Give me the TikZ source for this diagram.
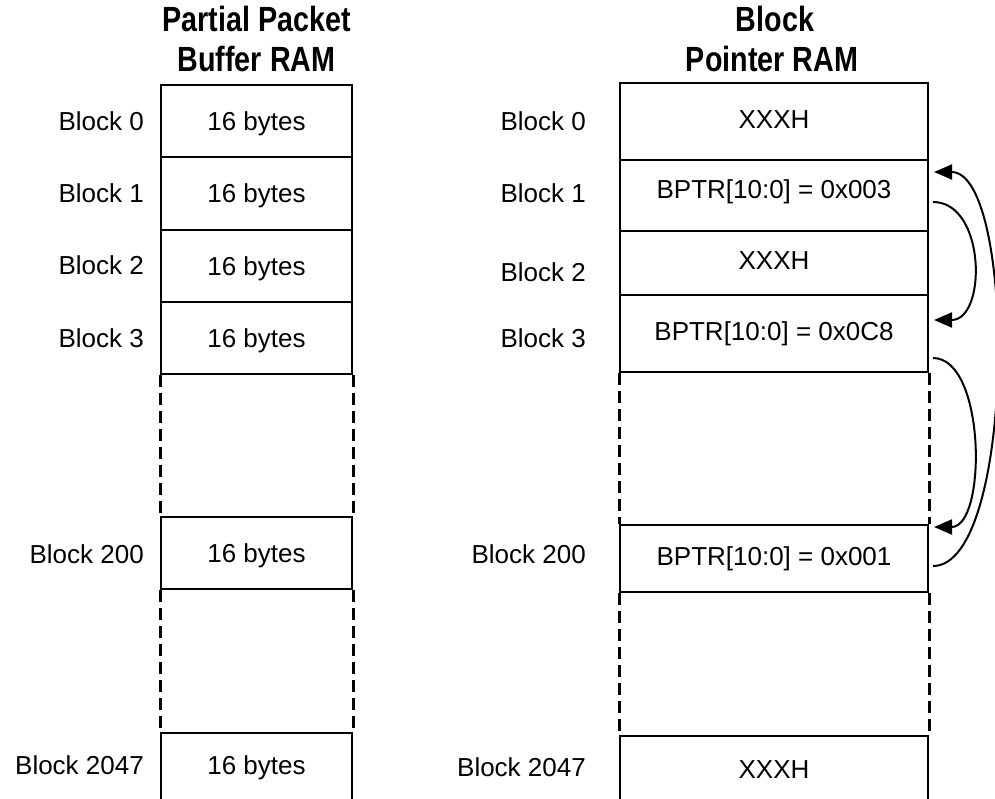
\documentclass[tikz,border=0pt]{standalone}
\usepackage{graphicx}
\usepackage{fontspec}
\setmainfont{Liberation Sans}
\usetikzlibrary{arrows.meta}
\newcommand{\ttlfont}[1]{\scalebox{0.82}[1]{#1}}
\begin{document}
\begin{tikzpicture}[x=1pt,y=-1pt,
  cell/.style={draw,line width=2pt,inner sep=0pt,font=\fontsize{26}{30}\selectfont,
    text height=19pt,text depth=0pt},
  lcell/.style={cell,minimum width=191pt},
  rcell/.style={cell,minimum width=308pt,text depth=5pt},
  lbl/.style={anchor=base east,inner sep=0pt,font=\fontsize{26}{30}\selectfont},
  ttl/.style={anchor=base,inner sep=0pt,font=\fontsize{35}{40}\selectfont\bfseries},
  dsh/.style={line width=3pt,dash pattern=on 12pt off 6pt},
  link/.style={line width=2pt,-{Triangle[length=18pt,width=15pt]}}
]
\useasboundingbox (0,0) rectangle (995,799);
% titles
\node[ttl] (t1) at (256.5,32) {\ttlfont{Partial Packet}};
\node[ttl] (t2) at (256.5,72) {\ttlfont{Buffer RAM}};
\node[ttl] (t3) at (775,32) {\ttlfont{Block}};
\node[ttl] (t4) at (772,72) {\ttlfont{Pointer RAM}};
% left column
\node[lcell,minimum height=72pt] (l0) at (256.5,121) {16 bytes};
\node[lcell,minimum height=73pt] (l1) at (256.5,193.5) {16 bytes};
\node[lcell,minimum height=72pt] (l2) at (256.5,266) {16 bytes};
\node[lcell,minimum height=72pt] (l3) at (256.5,338) {16 bytes};
\node[lcell,minimum height=72pt] (l200) at (256.5,553) {16 bytes};
\node[lcell,minimum height=80pt,text depth=17pt] (l2047) at (256.5,773) {16 bytes};
\draw[dsh] (l3.south west) -- (l200.north west);
\draw[dsh] (l3.south east) -- (l200.north east);
\draw[dsh] (l200.south west) -- (l2047.north west);
\draw[dsh] (l200.south east) -- (l2047.north east);
% left labels
\node[lbl] (ll0) at (144,131) {Block 0};
\node[lbl] (ll1) at (144,203) {Block 1};
\node[lbl] (ll2) at (144,275) {Block 2};
\node[lbl] (ll3) at (144,347) {Block 3};
\node[lbl] (ll200) at (144,563) {Block 200};
\node[lbl] (ll2047) at (144,774) {Block 2047};
% right column
\node[rcell,minimum height=77pt] (r0) at (774,121.5) {XXXH};
\node[rcell,minimum height=71pt,text depth=12pt] (r1) at (774,195.5) {BPTR[10:0] = 0x003};
\node[rcell,minimum height=64pt] (r2) at (774,263) {XXXH};
\node[rcell,minimum height=77pt] (r3) at (774,333.5) {BPTR[10:0] = 0x0C8};
\node[rcell,minimum height=67pt] (r200) at (774,558.5) {BPTR[10:0] = 0x001};
\node[rcell,minimum height=80pt,text depth=14pt] (r2047) at (774,776) {XXXH};
\draw[dsh] (r3.south west) -- (r200.north west);
\draw[dsh] (r3.south east) -- (r200.north east);
\draw[dsh] (r200.south west) -- (r2047.north west);
\draw[dsh] (r200.south east) -- (r2047.north east);
% right labels
\node[lbl] (rl0) at (586,131) {Block 0};
\node[lbl] (rl1) at (586,203) {Block 1};
\node[lbl] (rl2) at (586,282) {Block 2};
\node[lbl] (rl3) at (586,347) {Block 3};
\node[lbl] (rl200) at (586,563) {Block 200};
\node[lbl] (rl2047) at (586,776) {Block 2047};
% pointer links
\draw[link] ([shift={(4,6.5)}]r1.east) .. controls +(53,0) and +(53,0) .. ([shift={(5,-13.5)}]r3.east);
\draw[link] ([shift={(4,24.5)}]r3.east) .. controls +(53,0) and +(53,0) .. ([shift={(5,-31.5)}]r200.east);
\draw[link] ([shift={(4,7.5)}]r200.east) .. controls +(83,0) and +(83,0) .. ([shift={(5,-23.5)}]r1.east);
\end{tikzpicture}
\end{document}
